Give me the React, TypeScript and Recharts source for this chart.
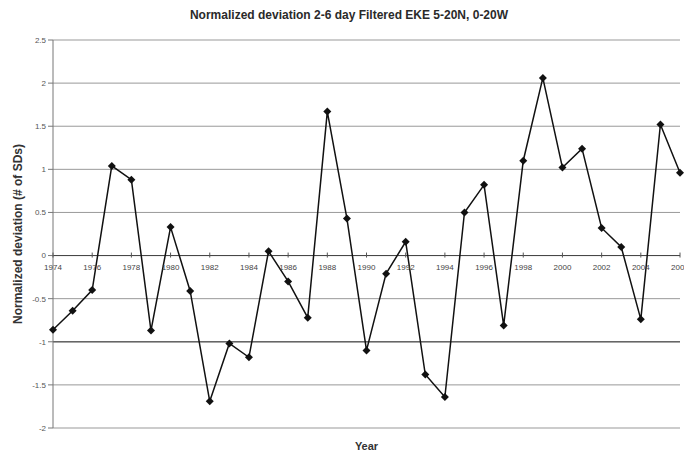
import React from 'react';
import {
    LineChart,
    Line,
    XAxis,
    YAxis,
    CartesianGrid,
    ReferenceLine,
    ReferenceArea,
    Label,
} from 'recharts';

const years = [
    1974, 1975, 1976, 1977, 1978, 1979, 1980, 1981, 1982, 1983, 1984,
    1985, 1986, 1987, 1988, 1989, 1990, 1991, 1992, 1993, 1994, 1995,
    1996, 1997, 1998, 1999, 2000, 2001, 2002, 2003, 2004, 2005, 2006,
];

const deviation = [
    -0.86, -0.64, -0.40, 1.04, 0.88, -0.87, 0.33, -0.41, -1.69, -1.02, -1.18,
    0.05, -0.30, -0.72, 1.67, 0.43, -1.10, -0.21, 0.16, -1.38, -1.64, 0.50,
    0.82, -0.81, 1.10, 2.06, 1.02, 1.24, 0.32, 0.10, -0.74, 1.52, 0.96,
];

const yearTicks = [
    1974, 1976, 1978, 1980, 1982, 1984, 1986, 1988, 1990,
    1992, 1994, 1996, 1998, 2000, 2002, 2004, 2006,
];

const valueTicks = [-2, -1.5, -1, -0.5, 0, 0.5, 1, 1.5, 2, 2.5];

const chartData = years.map((year, i) => ({ year, value: deviation[i] }));

const W = 684;
const H = 452;
const TOP = 40;
const BOTTOM = 24;
const Y_MIN = -2;
const Y_MAX = 2.5;
const PLOT_H = H - TOP - BOTTOM;
// the year labels sit on the zero line, not at the bottom of the plot
const ZERO_Y = TOP + (PLOT_H * (Y_MAX - 0)) / (Y_MAX - Y_MIN);

const FONT = '"Liberation Sans", Arial, sans-serif';

const YearTick = ({ x, payload }: any) => (
    <g>
        <line x1={x} x2={x} y1={ZERO_Y - 3} y2={ZERO_Y + 2} stroke="#555" strokeWidth={1} />
        <text
            x={x}
            y={ZERO_Y + 14}
            textAnchor="middle"
            fontSize={8}
            fontFamily={FONT}
            fill="#444"
        >
            {payload.value}
        </text>
    </g>
);

const Diamond = ({ cx, cy }: any) => {
    if (cx == null || cy == null) return null;
    const r = 4;
    return (
        <polygon
            points={`${cx},${cy - r} ${cx + r},${cy} ${cx},${cy + r} ${cx - r},${cy}`}
            fill="#111"
        />
    );
};

export default function App() {
    return (
        <div style={{ position: 'absolute', left: 0, top: 0, width: W, height: H, background: '#fff' }}>
            <LineChart
                width={W}
                height={H}
                data={chartData}
                margin={{ top: TOP, right: 4, left: 13, bottom: 0 }}
                style={{ fontFamily: FONT }}
            >
                <text
                    x={349}
                    y={19}
                    textAnchor="middle"
                    fontSize={12}
                    fontWeight="bold"
                    fontFamily={FONT}
                    fill="#2a2a2a"
                >
                    Normalized deviation 2-6 day Filtered EKE 5-20N, 0-20W
                </text>
                <CartesianGrid vertical={false} stroke="#999" strokeWidth={1} />
                <ReferenceArea fill="none" stroke="#c8c8c8" strokeWidth={1} ifOverflow="visible" />
                <ReferenceLine y={-1} stroke="#666" strokeWidth={1.6} />
                <ReferenceLine y={0} stroke="#444" strokeWidth={1} />
                <XAxis
                    dataKey="year"
                    type="number"
                    domain={[1974, 2006]}
                    ticks={yearTicks}
                    axisLine={false}
                    tickLine={false}
                    tick={<YearTick />}
                    height={BOTTOM}
                    interval={0}
                >
                    <Label
                        value="Year"
                        position="insideBottom"
                        offset={2}
                        style={{ fontSize: 11, fontWeight: 'bold', fill: '#333', fontFamily: FONT }}
                    />
                </XAxis>
                <YAxis
                    domain={[Y_MIN, Y_MAX]}
                    ticks={valueTicks}
                    width={40}
                    axisLine={{ stroke: '#777' }}
                    tickLine={{ stroke: '#777' }}
                    tickSize={5}
                    tick={{ fill: '#555', fontSize: 8, fontFamily: FONT }}
                    interval={0}
                >
                    <Label
                        value="Normalized deviation (# of SDs)"
                        angle={-90}
                        position="insideLeft"
                        offset={5}
                        style={{ textAnchor: 'middle', fontSize: 12, fontWeight: 'bold', fill: '#333', fontFamily: FONT }}
                    />
                </YAxis>
                <Line
                    type="linear"
                    dataKey="value"
                    stroke="#111"
                    strokeWidth={1.5}
                    dot={<Diamond />}
                    activeDot={false}
                    isAnimationActive={false}
                />
            </LineChart>
        </div>
    );
}
